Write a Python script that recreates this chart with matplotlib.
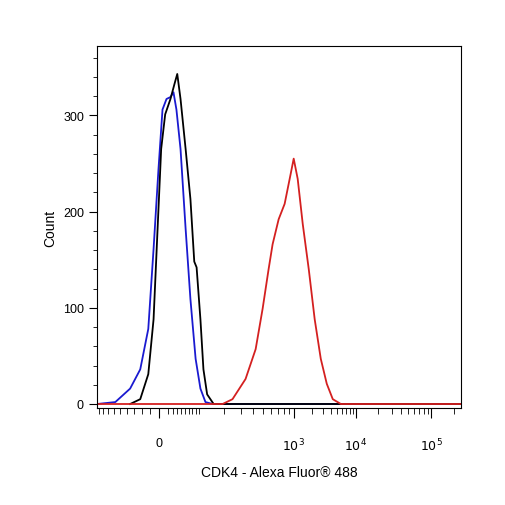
import numpy as np
import matplotlib
matplotlib.use("Agg")
import matplotlib.pyplot as plt
from matplotlib.ticker import FixedLocator, NullFormatter

plt.rcParams['font.family'] = ['Liberation Sans', 'DejaVu Sans']

# fluorescence values and counts
blue_x = [-188, -115, -70, -44, -25, -13, -2, 7, 16, 25, 32, 39, 49, 62, 75, 90, 105, 122, 149, 250000]
blue_y = [0, 2, 16, 36, 78, 161, 244, 306, 317, 319, 324, 306, 265, 182, 109, 47, 16, 2, 0, 0]
black_x = [-70, -44, -25, -13, -4, 4, 13, 25, 34, 41, 49, 62, 75, 86, 93, 105, 115, 128, 153, 183, 250000]
black_y = [0, 5, 31, 88, 182, 265, 301, 317, 332, 343, 317, 265, 213, 148, 142, 88, 36, 10, 0, 0, 0]
red_x = [-188, 193, 246, 335, 423, 496, 568, 622, 713, 816, 934, 1000, 1160, 1400, 1750, 2180,
         2730, 3410, 4260, 5740, 8280, 250000]
red_y = [0, 0, 5, 26, 57, 99, 140, 166, 192, 208, 239, 255, 234, 187, 140, 88, 47, 21, 5, 0, 0, 0]

# biexponential-like display scale
U = np.array([-10, 0, 2.998, 5.298, 7.6, 20])
P = np.array([-288, 159, 293, 355, 430, 834.0])

def fwd(x):
    return np.interp(np.arcsinh(np.asarray(x, float) / 100), U, P)

def inv(p):
    return 100 * np.sinh(np.interp(np.asarray(p, float), P, U))

fig = plt.figure(figsize=(5.06, 5.06), dpi=100)
ax = fig.add_axes([0.192, 0.192, 0.719, 0.715])
ax.set_xscale("function", functions=(fwd, inv))
ax.plot(blue_x, blue_y, color="#1a1ad0", lw=1.3)
ax.plot(black_x, black_y, color="black", lw=1.3)
ax.plot(red_x, red_y, color="#d42020", lw=1.3)

ax.set_xlim(-188, 250000)
ax.set_ylim(-4, 372)

ax.xaxis.set_major_locator(FixedLocator([0, 1e3, 1e4, 1e5]))
ax.set_xticklabels(["0", r"$10^3$", r"$10^4$", r"$10^5$"], fontsize=9)
minors = [v for v in range(-180, 0, 20)] + [v * 10 for v in range(2, 10)] + [v * 100 for v in range(1, 10)] \
    + [v * 1000 for v in range(2, 10)] + [v * 10000 for v in range(2, 10)] + [200000]
ax.xaxis.set_minor_locator(FixedLocator(minors))
ax.xaxis.set_minor_formatter(NullFormatter())
ax.tick_params(axis="x", which="major", length=7, pad=14, direction="out")
ax.tick_params(axis="x", which="minor", length=4, direction="out")

ax.yaxis.set_major_locator(FixedLocator([0, 100, 200, 300]))
ax.yaxis.set_minor_locator(FixedLocator([v for v in range(20, 371, 20) if v % 100]))
ax.tick_params(axis="y", which="major", length=6, labelsize=9, direction="out")
ax.tick_params(axis="y", which="minor", length=3, direction="out")

ax.set_xlabel("CDK4 - Alexa Fluor\u00ae 488", fontsize=10, labelpad=8)
ax.set_ylabel("Count", fontsize=10)

fig.savefig("out.png", dpi=100)
